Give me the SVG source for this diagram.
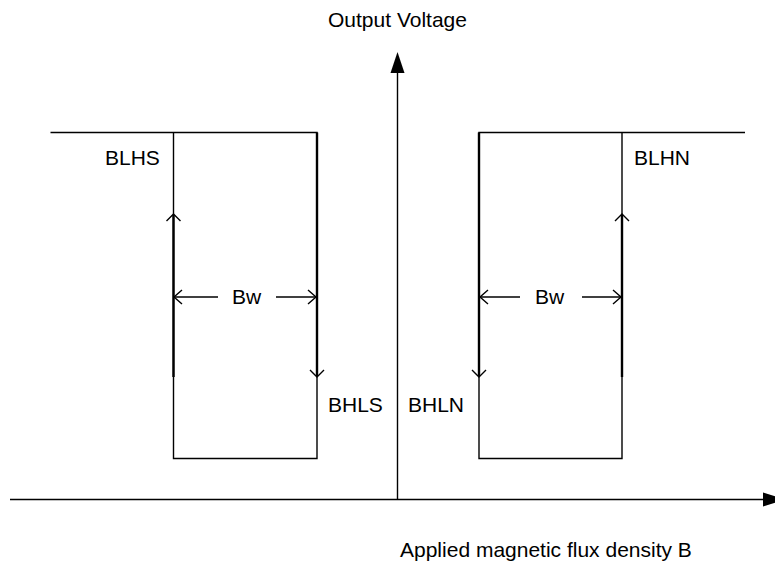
<svg xmlns="http://www.w3.org/2000/svg" width="775" height="567" viewBox="0 0 775 567">
<style>
.ln{stroke:#000;stroke-width:1.4;fill:none}
.tk{stroke:#000;stroke-width:2.4;fill:none}
.ah{stroke:#000;stroke-width:1.4;fill:none}
text{font-family:"Liberation Sans",Arial,sans-serif;font-size:21px;fill:#000}
</style>
<rect width="775" height="567" fill="#fff"/>
<g id="axes">
<line class="ln" x1="10" y1="499.5" x2="765" y2="499.5"/>
<polygon points="763,492.5 785,499.5 763,506.5" fill="#000"/>
<line class="ln" x1="397.5" y1="500" x2="397.5" y2="70"/>
<polygon points="390.5,73 397.5,52 404.5,73" fill="#000"/>
<text x="397.5" y="27" text-anchor="middle">Output Voltage</text>
<text x="400" y="557">Applied magnetic flux density B</text>
</g>
<g id="curve-south">
<polyline class="ln" points="50.5,132.5 317,132.5 317,458.5 173.5,458.5 173.5,132.5"/>
</g>
<g id="curve-north">
<polyline class="ln" points="745,132.5 479,132.5 479,458.5 622,458.5 622,132.5"/>
</g>
<g id="connectors">
<line class="tk" x1="173.5" y1="215" x2="173.5" y2="377"/>
<polyline class="ah" points="166.5,221 173.5,214 180.5,221"/>
<line class="tk" x1="317" y1="132.5" x2="317" y2="376"/>
<polyline class="ah" points="310,370 317,377 324,370"/>
<line class="tk" x1="479" y1="132.5" x2="479" y2="376"/>
<polyline class="ah" points="472,370 479,377 486,370"/>
<line class="tk" x1="622" y1="215" x2="622" y2="377"/>
<polyline class="ah" points="615,221 622,214 629,221"/>
<line class="ln" x1="174" y1="297" x2="218" y2="297"/>
<polyline class="ah" points="182,290 174,297 182,304"/>
<line class="ln" x1="276" y1="297" x2="316" y2="297"/>
<polyline class="ah" points="308,290 316,297 308,304"/>
<line class="ln" x1="480" y1="297" x2="520" y2="297"/>
<polyline class="ah" points="488,290 480,297 488,304"/>
<line class="ln" x1="582" y1="297" x2="621" y2="297"/>
<polyline class="ah" points="613,290 621,297 613,304"/>
</g>
<g id="labels">
<text x="105" y="165">BLHS</text>
<text x="634" y="165">BLHN</text>
<text x="328" y="412">BHLS</text>
<text x="408" y="412">BHLN</text>
<text x="232" y="304">Bw</text>
<text x="535" y="304">Bw</text>
</g>
</svg>
